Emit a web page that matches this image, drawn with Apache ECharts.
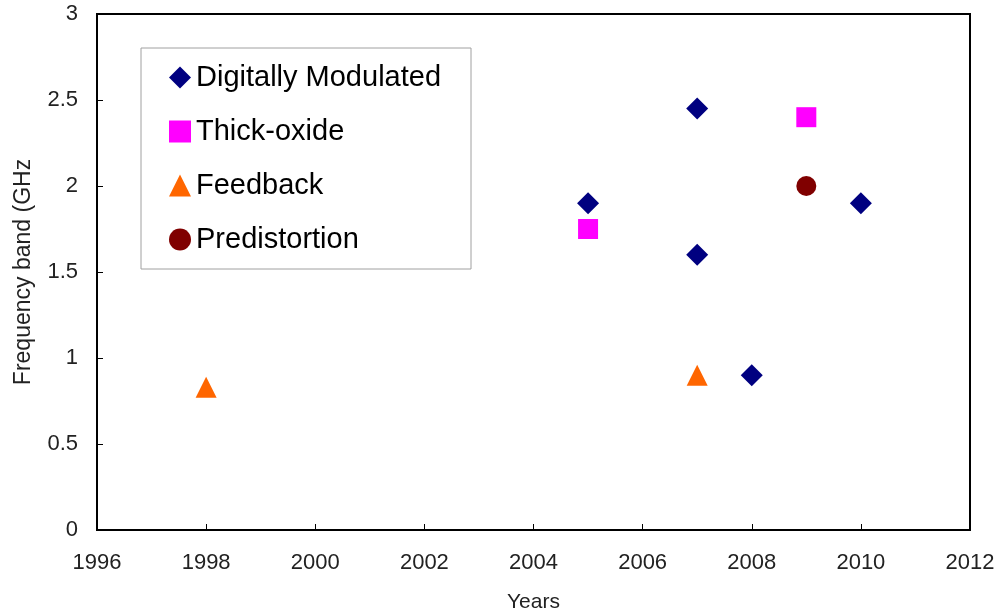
<!DOCTYPE html>
<html>
<head>
<meta charset="utf-8">
<script src="https://cdn.jsdelivr.net/npm/echarts@6/dist/echarts.min.js"></script>
<style>
html,body{margin:0;padding:0;background:#fff;}
#chart{width:999px;height:611px;}
</style>
</head>
<body>
<div id="chart"></div>
<script>
// Data
const seriesNames = ["Digitally Modulated", "Thick-oxide", "Feedback", "Predistortion"];
const digitallyModulated = [[2005, 1.9], [2007, 2.45], [2007, 1.6], [2008, 0.9], [2010, 1.9]];
const thickOxide = [[2005, 1.75], [2009, 2.4]];
const feedback = [[1998, 0.83], [2007, 0.9]];
const predistortion = [[2009, 2.0]];
const xTicks = { min: 1996, max: 2012, interval: 2 };
const yTicks = { min: 0, max: 3, interval: 0.5 };
const xTitle = "Years";
const yTitle = "Frequency band (GHz";

const FONT = "'Liberation Sans', Arial, sans-serif";
const chart = echarts.init(document.getElementById('chart'), null, { renderer: 'canvas' });

chart.setOption({
  animation: false,
  backgroundColor: '#fff',
  textStyle: { fontFamily: FONT },
  grid: {
    left: 97, right: 29, top: 14, bottom: 81,
    outerBoundsMode: 'none', containLabel: false,
    show: true, borderColor: '#000', borderWidth: 2, backgroundColor: 'transparent'
  },
  legend: {
    orient: 'vertical',
    left: 141, top: 48,
    padding: [15, 30, 15, 28],
    itemWidth: 22, itemHeight: 22, itemGap: 25,
    borderColor: '#a0a0a0', borderWidth: 1,
    textStyle: { fontSize: 29, color: '#000', fontFamily: FONT },
    data: seriesNames
  },
  xAxis: {
    type: 'value',
    min: xTicks.min, max: xTicks.max, interval: xTicks.interval,
    name: xTitle, nameLocation: 'middle', nameGap: 62,
    nameTextStyle: { fontSize: 21, color: '#222', fontFamily: FONT },
    axisLine: { show: true, lineStyle: { color: '#000', width: 2 } },
    axisTick: { show: true, inside: true, length: 6, lineStyle: { color: '#000', width: 1 } },
    axisLabel: { fontSize: 22, color: '#222', margin: 22, fontFamily: FONT,
      formatter: function (v) { return String(v); } },
    splitLine: { show: false }
  },
  yAxis: {
    type: 'value',
    min: yTicks.min, max: yTicks.max, interval: yTicks.interval,
    name: yTitle, nameLocation: 'middle', nameGap: 62,
    nameTextStyle: { fontSize: 23, color: '#222', fontFamily: FONT },
    axisLine: { show: true, lineStyle: { color: '#000', width: 2 } },
    axisTick: { show: true, inside: true, length: 6, lineStyle: { color: '#000', width: 1 } },
    axisLabel: { fontSize: 22, color: '#222', margin: 19, fontFamily: FONT,
      formatter: function (v) { return String(v); } },
    splitLine: { show: false }
  },
  series: [
    { name: seriesNames[0], type: 'scatter', symbol: 'diamond', symbolSize: 22,
      itemStyle: { color: '#000080', opacity: 1 }, data: digitallyModulated },
    { name: seriesNames[1], type: 'scatter', symbol: 'rect', symbolSize: 20,
      itemStyle: { color: '#ff00ff', opacity: 1 }, data: thickOxide },
    { name: seriesNames[2], type: 'scatter', symbol: 'triangle', symbolSize: [21, 21],
      itemStyle: { color: '#ff6600', opacity: 1 }, data: feedback },
    { name: seriesNames[3], type: 'scatter', symbol: 'circle', symbolSize: 20,
      itemStyle: { color: '#800000', opacity: 1 }, data: predistortion }
  ]
});
</script>
</body>
</html>
